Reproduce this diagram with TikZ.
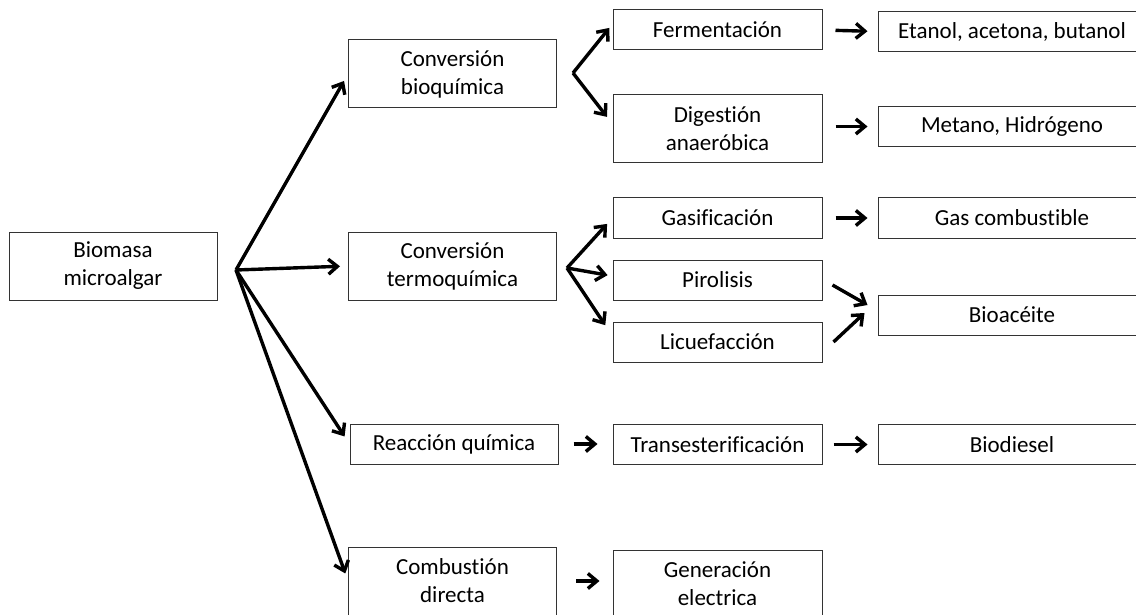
\documentclass[tikz,border=0pt]{standalone}
\usepackage{fontspec}
\setmainfont{Carlito}[Ligatures=NoCommon]
\usetikzlibrary{
	calc,
	positioning,
	arrows.meta
}

\begin{document}
\begin{tikzpicture}[
				x=1pt, y=-1pt,
				caja/.style={draw=black!80, line width=1pt, rectangle, align=center, inner sep=0pt, font=\fontsize{23}{28}\selectfont},
				nivelA/.style={caja, minimum width=208pt},
				nivelB/.style={caja, minimum width=209pt},
				nivelC/.style={caja, minimum width=268pt},
				baja/.style={minimum height=40pt},
				alta/.style={minimum height=68pt},
				flecha/.style={line width=3.4pt, -{Straight Barb[length=9pt,width=15pt]}}
			]
				\useasboundingbox (0,0) rectangle (1136,615);
				% origen
				\node[nivelA, alta] (biomasa)  at (113,266)   {Biomasa\\microalgar};
				% primer nivel
				\node[nivelA, alta] (bioq)     at (452.5,74)  {Conversión\\bioquímica};
				\node[nivelA, alta] (termo)    at (452.5,266) {Conversión\\termoquímica};
				\node[nivelA, baja] (reacc)    at (454,444)   {Reacción química};
				\node[nivelA, alta] (combust)  at (452.5,581) {Combustión\\directa};
				% segundo nivel
				\node[nivelB, baja] (ferm)     at (717.5,30)  {Fermentación};
				\node[nivelB, alta] (digest)   at (717.5,129) {Digestión\\anaeróbica};
				\node[nivelB, baja] (gasif)    at (717.5,218) {Gasificación};
				\node[nivelB, baja] (pirol)    at (717.5,280) {Pirolisis};
				\node[nivelB, baja] (licue)    at (717.5,342) {Licuefacción};
				\node[nivelB, baja] (transes)  at (717.5,444.5) {Transesterificación};
				\node[nivelB, alta] (gener)    at (717.5,584) {Generación\\electrica};
				% productos
				\node[nivelC, baja] (etanol)   at (1012,31.5)  {Etanol, acetona, butanol};
				\node[nivelC, baja] (metano)   at (1012,126.5) {Metano, Hidrógeno};
				\node[nivelC, baja] (gascomb)  at (1012,218)   {Gas combustible};
				\node[nivelC, baja] (bioac)    at (1012,315)   {Bioacéite};
				\node[nivelC, baja] (biodiesel) at (1012,444.5) {Biodiesel};
				% puntos de bifurcacion
				\coordinate (forkA) at (236,270);
				\coordinate (forkB) at (573,73);
				\coordinate (forkC) at (567,268);
				% flechas desde la biomasa
				\draw[flecha, shorten >=8pt] (forkA) -- (bioq.west);
				\draw[flecha, shorten >=8pt] (forkA) -- (termo.west);
				\draw[flecha, shorten >=9pt] (forkA) -- (reacc.west);
				\draw[flecha, shorten >=8pt] (forkA) -- (combust.west);
				% conversion bioquimica
				\draw[flecha, shorten >=5pt] (forkB) -- ([yshift=6pt]ferm.west);
				\draw[flecha, shorten >=9pt] (forkB) -- ([yshift=5pt]digest.west);
				% conversion termoquimica
				\draw[flecha, shorten >=8pt] (forkC) -- (gasif.west);
				\draw[flecha, shorten >=5pt] (forkC) -- ([yshift=4pt]pirol.west);
				\draw[flecha, shorten >=13pt] (forkC) -- ([yshift=6pt]licue.west);
				% hacia los productos
				\draw[flecha, shorten <=13pt, shorten >=10pt] (ferm.east) -- (etanol.west);
				\draw[flecha, shorten <=13pt, shorten >=10pt] (metano.west -| digest.east) -- (metano.west);
				\draw[flecha, shorten <=13pt, shorten >=10pt] (gasif.east) -- (gascomb.west);
				\draw[flecha] ($(pirol.east)+(10,5)$) -- ($(bioac.west)+(-10,-10)$);
				\draw[flecha] ($(licue.east)+(11,0)$) -- ($(bioac.west)+(-13,-2)$);
				\draw[flecha, shorten <=15pt, shorten >=15pt] (reacc.east) -- (reacc.east -| transes.west);
				\draw[flecha, shorten <=11pt, shorten >=10pt] (transes.east) -- (biodiesel.west);
				\draw[flecha, shorten <=19pt, shorten >=13pt] (combust.east) -- (combust.east -| gener.west);
			\end{tikzpicture}
\end{document}
